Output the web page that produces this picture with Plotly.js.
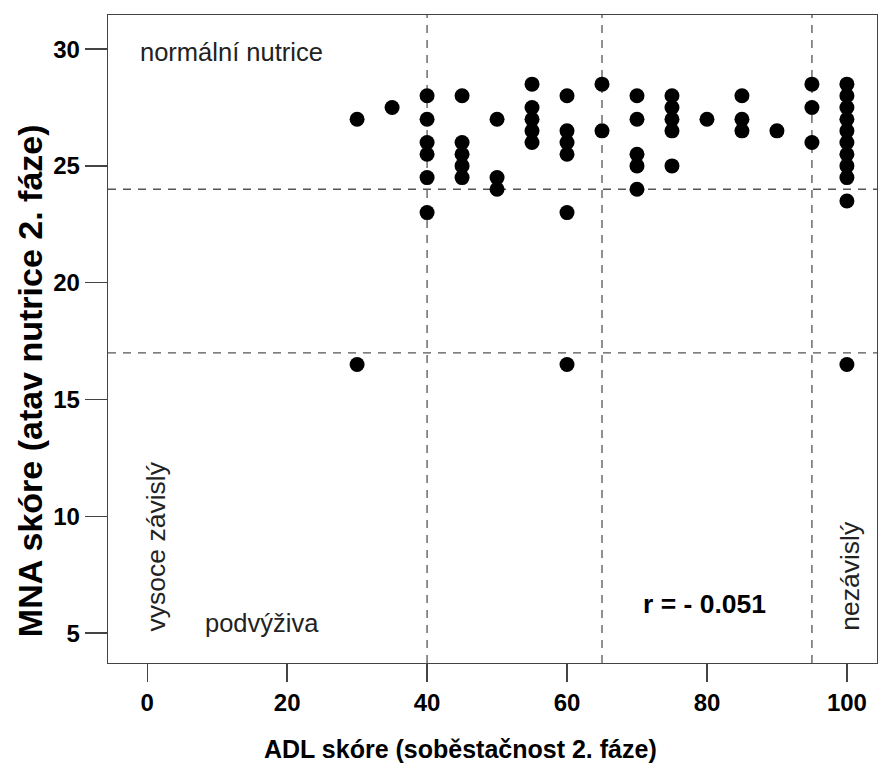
<!DOCTYPE html>
<html><head><meta charset="utf-8">
<script src="https://cdn.plot.ly/plotly-3.0.1.min.js"></script>
<style>body{margin:0;padding:0;background:#fff}#chart{width:880px;height:767px}</style>
</head><body><div id="chart"></div>
<script>
// ADL score (x) and MNA score (y) per patient
const adl = [
  30, 30,
  35,
  40, 40, 40, 40, 40, 40,
  45, 45, 45, 45, 45,
  50, 50, 50,
  55, 55, 55, 55, 55,
  60, 60, 60, 60, 60, 60,
  65, 65,
  70, 70, 70, 70, 70,
  75, 75, 75, 75, 75,
  80,
  85, 85, 85,
  90,
  95, 95, 95,
  100, 100, 100, 100, 100, 100, 100, 100, 100, 100, 100
];
const mna = [
  27, 16.5,
  27.5,
  28, 27, 26, 25.5, 24.5, 23,
  28, 26, 25.5, 25, 24.5,
  27, 24.5, 24,
  28.5, 27.5, 27, 26.5, 26,
  28, 26.5, 26, 25.5, 23, 16.5,
  28.5, 26.5,
  28, 27, 25.5, 25, 24,
  28, 27.5, 27, 26.5, 25,
  27,
  28, 27, 26.5,
  26.5,
  28.5, 27.5, 26,
  28.5, 28, 27.5, 27, 26.5, 26, 25.5, 25, 24.5, 23.5, 16.5
];
const xCutoffs = [40, 65, 95];
const yCutoffs = [24, 17];
const xTicks = [0, 20, 40, 60, 80, 100];
const yTicks = [5, 10, 15, 20, 25, 30];
const xTitle = 'ADL skóre (soběstačnost 2. fáze)';
const yTitle = 'MNA skóre (atav nutrice 2. fáze)';

const xRange = [-5.6, 104.3];
const yRange = [3.72, 31.46];

const lineStyle = {color: '#555555', width: 1.3, dash: '8px,7px'};
const shapes = [];
xCutoffs.forEach(v => shapes.push({type: 'line', xref: 'x', yref: 'paper', x0: v, x1: v, y0: 0, y1: 1, line: lineStyle, layer: 'below'}));
yCutoffs.forEach(v => shapes.push({type: 'line', xref: 'paper', yref: 'y', x0: 0, x1: 1, y0: v, y1: v, line: lineStyle, layer: 'below'}));

const ff = 'Liberation Sans, Arial, sans-serif';
const annotations = [
  {text: 'normální nutrice', x: -1.3, y: 29.88, xref: 'x', yref: 'y', xanchor: 'left', yanchor: 'middle', showarrow: false, font: {family: ff, size: 25.5, color: '#222'}},
  {text: 'podvýživa', x: 8.0, y: 5.45, xref: 'x', yref: 'y', xanchor: 'left', yanchor: 'middle', showarrow: false, font: {family: ff, size: 25.5, color: '#222'}},
  {text: 'vysoce závislý', x: 1.3, y: 5.0, xref: 'x', yref: 'y', xanchor: 'center', yanchor: 'bottom', textangle: -90, showarrow: false, font: {family: ff, size: 26.5, color: '#222'}},
  {text: 'nezávislý', x: 100.4, y: 5.0, xref: 'x', yref: 'y', xanchor: 'center', yanchor: 'bottom', textangle: -90, showarrow: false, font: {family: ff, size: 26.5, color: '#222'}},
  {text: 'r = - 0.051', x: 79.7, y: 6.24, xref: 'x', yref: 'y', xanchor: 'center', yanchor: 'middle', showarrow: false, font: {family: ff, size: 26.5, color: '#000', weight: 'bold'}},
  // axis titles (offset from plot centre as in the reference)
  {text: xTitle, x: 0.459, y: -0.1327, xref: 'paper', yref: 'paper', xanchor: 'center', yanchor: 'middle', showarrow: false, font: {family: ff, size: 25, color: '#000', weight: 'bold'}},
  {text: yTitle, x: -0.1014, y: 0.435, xref: 'paper', yref: 'paper', xanchor: 'center', yanchor: 'middle', textangle: -90, showarrow: false, font: {family: ff, size: 34, color: '#000', weight: 'bold'}}
];

const data = [{
  x: adl, y: mna, type: 'scatter', mode: 'markers',
  marker: {color: '#000', size: 15, line: {width: 0}},
  hoverinfo: 'x+y'
}];

const layout = {
  width: 880, height: 767,
  margin: {l: 108, r: 3, t: 15, b: 104, pad: 0},
  paper_bgcolor: '#fff', plot_bgcolor: '#fff',
  showlegend: false,
  font: {family: ff, color: '#000'},
  xaxis: {
    range: xRange, tickvals: xTicks, ticktext: xTicks.map(String), automargin: false,
    showgrid: false, zeroline: false, showline: true, linecolor: '#444', linewidth: 1.3, mirror: true,
    ticks: 'outside', ticklen: 18, tickwidth: 1.3, tickcolor: '#444',
    tickfont: {family: ff, size: 24, color: '#000', weight: 'bold'}
  },
  yaxis: {
    range: yRange, tickvals: yTicks, ticktext: yTicks.map(String), automargin: false,
    showgrid: false, zeroline: false, showline: true, linecolor: '#444', linewidth: 1.3, mirror: true,
    ticks: 'outside', ticklen: 22, tickwidth: 1.3, tickcolor: '#444',
    tickfont: {family: ff, size: 24, color: '#000', weight: 'bold'}
  },
  shapes: shapes,
  annotations: annotations
};

Plotly.newPlot('chart', data, layout, {displayModeBar: false, staticPlot: true});
</script>
</body></html>
